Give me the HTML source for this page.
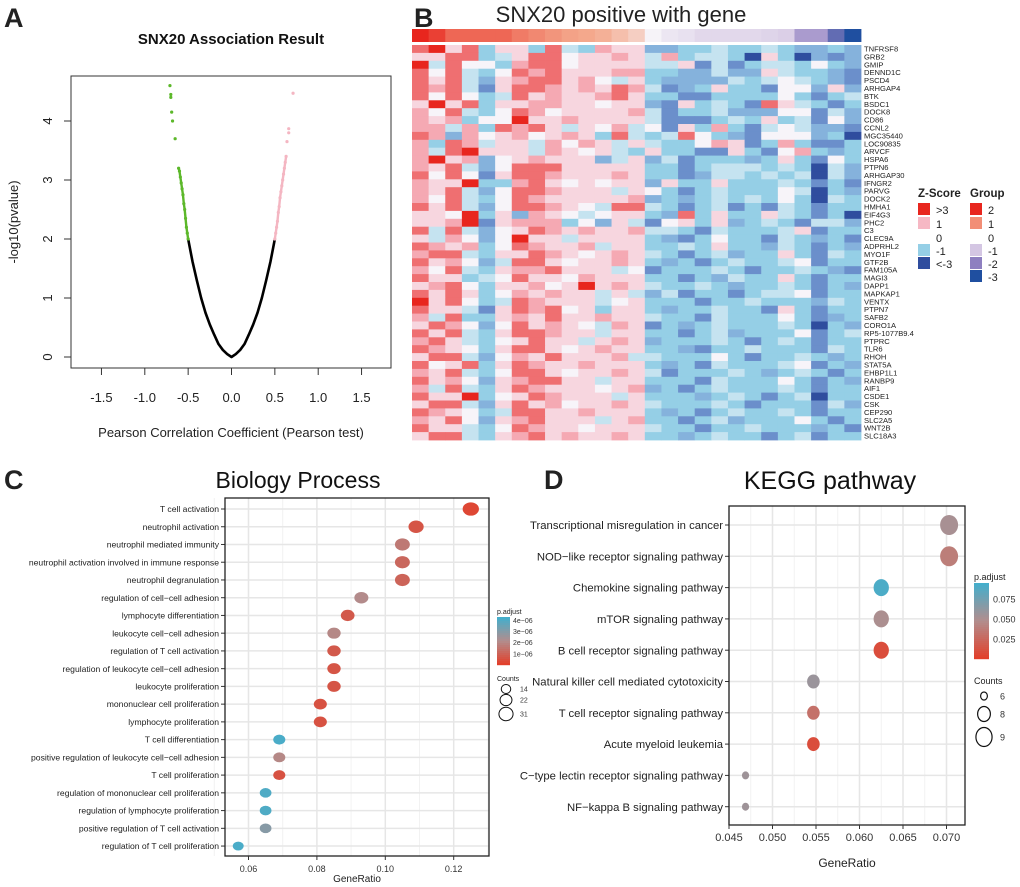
<!DOCTYPE html>
<html><head><meta charset="utf-8"><style>
html,body{margin:0;padding:0;background:#fff;}
svg{display:block;font-family:"Liberation Sans",sans-serif;}
</style></head><body>
<svg id="fig" width="1020" height="887" viewBox="0 0 1020 887" xmlns="http://www.w3.org/2000/svg"></svg>
<script>
// ---------- Panel A data ----------
const curveR = [-0.5,-0.45,-0.4,-0.35,-0.3,-0.25,-0.2,-0.15,-0.1,-0.05,0,0.05,0.1,0.15,0.2,0.25,0.3,0.35,0.4,0.45,0.5];
const curveY = [2.0,1.62,1.3,1.0,0.75,0.55,0.38,0.22,0.12,0.05,0,0.05,0.12,0.22,0.38,0.55,0.75,1.0,1.3,1.62,2.0];
const greenR = [-0.50,-0.51,-0.52,-0.53,-0.54,-0.55,-0.56,-0.57,-0.58,-0.59,-0.60,-0.61,-0.65,-0.68,-0.69,-0.70,-0.70,-0.71];
const greenY = [2.0,2.1,2.2,2.35,2.5,2.6,2.75,2.85,2.95,3.05,3.15,3.2,3.7,4.0,4.15,4.4,4.45,4.6];
const pinkR = [0.50,0.51,0.52,0.53,0.54,0.55,0.56,0.57,0.58,0.59,0.60,0.61,0.62,0.63,0.64,0.66,0.66,0.71];
const pinkY = [2.0,2.1,2.2,2.3,2.45,2.55,2.7,2.8,2.9,3.0,3.1,3.2,3.3,3.4,3.65,3.8,3.87,4.47];
const aXTicks = [-1.5,-1.0,-0.5,0.0,0.5,1.0,1.5];
const aYTicks = [0,1,2,3,4];

// ---------- Panel B data ----------
const genes = ["TNFRSF8","GRB2","GMIP","DENND1C","PSCD4","ARHGAP4","BTK","BSDC1","DOCK8","CD86","CCNL2","MGC35440","LOC90835","ARVCF","HSPA6","PTPN6","ARHGAP30","IFNGR2","PARVG","DOCK2","HMHA1","EIF4G3","PHC2","C3","CLEC9A","ADPRHL2","MYO1F","GTF2B","FAM105A","MAGI3","DAPP1","MAPKAP1","VENTX","PTPN7","SAFB2","CORO1A","RP5-1077B9.4","PTPRC","TLR6","RHOH","STAT5A","EHBP1L1","RANBP9","AIF1","CSDE1","CSK","CEP290","SLC2A5","WNT2B","SLC18A3"];
const groupVals = [3,2.6,2,2,2,2,1.7,1.5,1.3,1.1,1,0.9,0.7,0.5,0,-0.3,-0.4,-0.6,-0.6,-0.6,-0.6,-0.7,-0.8,-1.6,-1.6,-2.4,-3];
const heatRows = [
"rRqrbqqbrcbpqqBBbbcbbcbBBbB","qqrrbcqrrwqqpqcpbccbDqbDBmB","RcrwwbprrwqqqqccqmcmbccbwbB","rwrcbwrprqqqppbbBBcBBqcbbBm","rqrcBqprrqpwcqbBBBBcbcwcbBm",
"rprcmqrrpqpqrpcmBbqbbmwwBqB","rwrwbcrqpqqprqbbmmbbbbwbmbc","qRqrbqqppqqwqqBmqbcbmrqcbmb","pwrcbwrpwqqqqpcmbbcBBBwwmcB","pqpbwwRqqpqqqqcmmmbcbqbcmwB",
"ppcpbrprqcqwpcwmqbpbmcwcBBm","rpBpwqpwqpqbrcbcrwbBmwwwBbD","pbrpcqqcpwpqcqcbbwpqmbpbmmb","pcrRqqqcpqwqcbqbbmmqbmwpbBb","pRqpBwqpqqqBcqBcmbbbBbqbmwb",
"pqrcBwrrrqqqqqbbmbcccbcbDcB","rwrwmqrrpqqqpqbbmBccbcbcDcB","pqqRbbprqwqwqqBqbbqbbbcbmbm","pqrcBwrrpqqqcqwbmbcbbbwcDbB","pwrcbwrpqqqqqpBbBbcbcbwbDcb",
"rqrcBwrrpqwcrrcbmbcmbmcbmbb","qqwRbqBpqwcwqqbBrbqbbqcbmbD","qqpRmqpppbwBqcmwqbqBbcbmccB","rcrcBwqrpqpqqpccbmcbbbcqmbb","qcpwBwRqqcqqqqbBmbwbbmcbBbm",
"rpqpbwrpqqpcqqbbcbqbbBcbmbB","prrcbqqrpqwqpqcbmbcBbbqbmcb","rqpwBcrrqwqqpqbBbmbcbbcwmbb","pwrcbqpprqqqcwmbbbcbmbbcbBm","rqqbcwrqqwpqqqbbmbBcbbqbmbb",
"qprwbqqpwqRqpqcbbcbBbbcbmbB","rqrqbwpqpqqcqcBcmbbmbccwmbb","RqrwbcrpqqqcwqbbbmbbcbbbBcb","rqqcmqrprwqbqqbBbbcbbmqbmbb","pcrbbqpqrqqpqqcbbmcbbbwbmBb",
"qrpwBwrqpqwcpqmbBbcbbbcbDbB","rqrcbqrrpqqcqqbbmbcBbbbwmbc","prqcbwqrqqcqpqBbbbcbmbcbmbb","rpqwbqrrqwqpqqbbBmbbcbbbmcb","qrrcBwpqrqqqpccbbbwbmbbcbBb",
"rwqrbqrpqqpqqqbBbmcbbbcwmbB","pqrcbwrrqwqqpqcmbbbcbBbcbmb","rqpwBqprrqqcqqbbbmcbbbwbmbB","pcrcbqrpqqqwqpBbmbcbbbcbmbb","rqqRbwqrpqqqcqbbbBbcbmbcDbb",
"qrrcBqrqpwqqpqcbbbcbmbbbmcB","rpqwbcrrqqpqqqbBbmbcbbcbmbb","pqrwBqprqqqcqpbbmbcBbbbwbmb","rqqcbwrpqqwqqqcbbmbbcbbbBbm","qrrcbqprqpqqpqbbBbcbbmbcmbb"];
const zKey = "RrpqwcbBmD";
const zVals = [3,2,1.2,0.5,0,-0.5,-1,-1.6,-2.2,-3];

// ---------- Panel C data ----------
const bpTerms = ["T cell activation","neutrophil activation","neutrophil mediated immunity","neutrophil activation involved in immune response","neutrophil degranulation","regulation of cell\u2212cell adhesion","lymphocyte differentiation","leukocyte cell\u2212cell adhesion","regulation of T cell activation","regulation of leukocyte cell\u2212cell adhesion","leukocyte proliferation","mononuclear cell proliferation","lymphocyte proliferation","T cell differentiation","positive regulation of leukocyte cell\u2212cell adhesion","T cell proliferation","regulation of mononuclear cell proliferation","regulation of lymphocyte proliferation","positive regulation of T cell activation","regulation of T cell proliferation"];
const bpRatio = [0.125,0.109,0.105,0.105,0.105,0.093,0.089,0.085,0.085,0.085,0.085,0.081,0.081,0.069,0.069,0.069,0.065,0.065,0.065,0.057];
const bpCount = [31,27,26,26,26,23,22,21,21,21,21,20,20,17,17,17,16,16,16,14];
const bpPadj = [0.2e-6,0.6e-6,1.6e-6,1.1e-6,1.0e-6,2.1e-6,0.7e-6,2.0e-6,0.7e-6,0.6e-6,0.6e-6,0.5e-6,0.5e-6,4.2e-6,2.0e-6,0.5e-6,4.1e-6,4.1e-6,3.0e-6,4.2e-6];
const bpXTicks = [0.06,0.08,0.10,0.12];
const bpLegTicks = [4e-6,3e-6,2e-6,1e-6];
const bpLegLabels = ["4e\u221206","3e\u221206","2e\u221206","1e\u221206"];
const bpCountLeg = [14,22,31];

// ---------- Panel D data ----------
const kgTerms = ["Transcriptional misregulation in cancer","NOD\u2212like receptor signaling pathway","Chemokine signaling pathway","mTOR signaling pathway","B cell receptor signaling pathway","Natural killer cell mediated cytotoxicity","T cell receptor signaling pathway","Acute myeloid leukemia","C\u2212type lectin receptor signaling pathway","NF\u2212kappa B signaling pathway"];
const kgRatio = [0.0703,0.0703,0.0625,0.0625,0.0625,0.0547,0.0547,0.0547,0.0469,0.0469];
const kgCount = [9,9,8,8,8,7,7,7,6,6];
const kgPadj = [0.052,0.038,0.092,0.05,0.008,0.058,0.03,0.008,0.056,0.056];
const kgXTicks = [0.045,0.050,0.055,0.060,0.065,0.070];
const kgXLabels = ["0.045","0.050","0.055","0.060","0.065","0.070"];
const kgLegTicks = [0.075,0.050,0.025];
const kgCountLeg = [6,8,9];

// ---------- helpers ----------
const NS = "http://www.w3.org/2000/svg";
const svg = document.getElementById("fig");
function mk(tag, attrs, parent){
  const e = document.createElementNS(NS, tag);
  for (const k in attrs) e.setAttribute(k, attrs[k]);
  (parent||svg).appendChild(e);
  return e;
}
function txt(s, attrs, parent){ const e = mk("text", attrs, parent); e.textContent = s; return e; }
function hex(c){ return [parseInt(c.slice(1,3),16),parseInt(c.slice(3,5),16),parseInt(c.slice(5,7),16)]; }
function mix(a,b,t){ const A=hex(a),B=hex(b); return "rgb("+A.map((v,i)=>Math.round(v+(B[i]-v)*t)).join(",")+")"; }
function zColor(v){
  if (v>=0){ return v<=1 ? mix("#f7f4f9","#f6b8c4",v) : mix("#f6b8c4","#e8261e",Math.min(1,(v-1)/2)); }
  const a=-v;
  if (a<=1) return mix("#f4f7fa","#95cfe6",a);
  if (a<=2) return mix("#95cfe6","#7a9fd6",a-1);
  return mix("#7a9fd6","#2f4d9e",Math.min(1,a-2));
}
function gColor(v){
  if (v>=0){ return v<=1 ? mix("#f6f3f8","#f4a88c",v) : mix("#f4a88c","#e8261e",Math.min(1,(v-1)/2)); }
  const a=-v;
  if (a<=1) return mix("#f6f3f8","#d4c6e3",a);
  if (a<=2) return mix("#d4c6e3","#8e7fc0",a-1);
  return mix("#8e7fc0","#1f4fa0",Math.min(1,a-2));
}
function padjColor(t){
  return t<0.5 ? mix("#e2402b","#b28d8d",t*2) : mix("#b28d8d","#45aecb",(t-0.5)*2);
}

// ---------- Panel A ----------
const gA = mk("g",{});


const axL=71, axR=391, axT=76, axB=368;
const xA = r => 231.5 + r*86.7;
const yA = v => 357 - v*59;
let e;
e = txt("A",{x:4,y:27,"font-size":27,"font-weight":"bold",fill:"#222"},gA);


e = txt("SNX20 Association Result",{x:231,y:44,"font-size":15,"font-weight":"bold","text-anchor":"middle",fill:"#111"},gA);


e = mk("rect",{x:axL,y:axT,width:axR-axL,height:axB-axT,fill:"none",stroke:"#333","stroke-width":1},gA);


aXTicks.forEach(t=>{
  const x=xA(t);
  let l=mk("line",{x1:x,x2:x,y1:axB,y2:axB+7,stroke:"#333"},gA);
  
  
  let s=txt(t.toFixed(1),{x:x,y:402,"font-size":13,"text-anchor":"middle",fill:"#222"},gA);
  
  
});
aYTicks.forEach(t=>{
  const y=yA(t);
  let l=mk("line",{x1:axL-7,x2:axL,y1:y,y2:y,stroke:"#333"},gA);
  
  
  let s=txt(String(t),{x:0,y:0,"font-size":13,"text-anchor":"middle",fill:"#222",transform:"translate(52,"+y+") rotate(-90)"},gA);
  
  
});
e = txt("-log10(pvalue)",{x:0,y:0,"font-size":13,"text-anchor":"middle",fill:"#222",transform:"translate(18,222) rotate(-90)"},gA);


e = txt("Pearson Correlation Coefficient (Pearson test)",{x:231,y:437,"font-size":13,"text-anchor":"middle",fill:"#222"},gA);


e = mk("polyline",{points:curveR.map((r,i)=>xA(r)+","+yA(curveY[i])).join(" "),fill:"none",stroke:"#000","stroke-width":2.6,"stroke-linejoin":"round"},gA);


greenR.forEach((r,i)=>{
  const c=mk("circle",{cx:xA(r),cy:yA(greenY[i]),r:1.6,fill:"#5cb82a"},gA);
  
  
});
e = mk("polyline",{points:greenR.slice(0,12).map((r,i)=>xA(r)+","+yA(greenY[i])).join(" "),fill:"none",stroke:"#5cb82a","stroke-width":2.4},gA);


pinkR.forEach((r,i)=>{
  const c=mk("circle",{cx:xA(r),cy:yA(pinkY[i]),r:1.6,fill:"#f4b6c2"},gA);
  
  
});
e = mk("polyline",{points:pinkR.slice(0,14).map((r,i)=>xA(r)+","+yA(pinkY[i])).join(" "),fill:"none",stroke:"#f4b6c2","stroke-width":2.4},gA);



// ---------- Panel B ----------
const gB = mk("g",{});


const hx0=412, hx1=861, hy0=45, rowH=7.9;
const nCol = groupVals.length;
const colW=(hx1-hx0)/nCol;
e = txt("B",{x:414,y:27,"font-size":27,"font-weight":"bold",fill:"#222"},gB);


e = txt("SNX20 positive with gene",{x:621,y:22,"font-size":22,"text-anchor":"middle",fill:"#222"},gB);


groupVals.forEach((v,j)=>{
  const r=mk("rect",{x:hx0+j*colW,y:29,width:colW+0.4,height:13,fill:gColor(v)},gB);
  
  
});
heatRows.forEach((row,i)=>{
  for(let j=0;j<nCol;j++){
    const ch=row[j]||"w";
    const v=zVals[zKey.indexOf(ch)] ?? 0;
    const r=mk("rect",{x:hx0+j*colW,y:hy0+i*rowH,width:colW+0.4,height:rowH+0.4,fill:zColor(v)},gB);
    
    
  }
});
genes.forEach((g,i)=>{
  const t=txt(g,{x:864,y:hy0+i*rowH+6.5,"font-size":7.6,fill:"#222"},gB);
  
  
});
e = txt("Z-Score",{x:918,y:197,"font-size":11.5,"font-weight":"bold",fill:"#222"},gB);


e = txt("Group",{x:970,y:197,"font-size":11.5,"font-weight":"bold",fill:"#222"},gB);


const legRowY=[203,217,231,244,257,270];
const zLeg=[[">3",3],["1",1],["0",null],["-1",-1],["<-3",-3]];
zLeg.forEach((z,i)=>{
  if(z[1]!==null){
    const r=mk("rect",{x:918,y:legRowY[i],width:12,height:12,fill:zColor(z[1])},gB);
    
    
  }
  const t=txt(z[0],{x:936,y:legRowY[i]+11,"font-size":11,fill:"#222"},gB);
  
  
});
const gLeg=[["2",3],["1",1.4],["0",null],["-1",-1],["-2",-2],["-3",-3]];
gLeg.forEach((z,i)=>{
  if(z[1]!==null){
    const r=mk("rect",{x:970,y:legRowY[i],width:12,height:12,fill:gColor(z[1])},gB);
    
    
  }
  const t=txt(z[0],{x:988,y:legRowY[i]+11,"font-size":11,fill:"#222"},gB);
  
  
});

// ---------- dot plot helper ----------
function dotPanel(o){
  const g=o.g;
  const xs=v=>o.x0px+(v-o.x0)*o.pxPer;
  for(let k=0;k<o.minor.length;k++){
    const x=xs(o.minor[k]);
    const l=mk("line",{x1:x,x2:x,y1:o.top,y2:o.bot,stroke:"#f2f2f2","stroke-width":1},g);
    
    
  }
  o.ticks.forEach(t=>{
    const x=xs(t);
    const l=mk("line",{x1:x,x2:x,y1:o.top,y2:o.bot,stroke:"#e6e6e6","stroke-width":1.5},g);
    
    
  });
  o.terms.forEach((term,i)=>{
    const y=o.row0+i*o.rowStep;
    const l=mk("line",{x1:o.left,x2:o.right,y1:y,y2:y,stroke:"#e6e6e6","stroke-width":1.5},g);
    
    
    const tk=mk("line",{x1:o.left-4,x2:o.left,y1:y,y2:y,stroke:"#333"},g);
    
    
    const t=txt(term,{x:o.left-6,y:y+o.lfs*0.36,"font-size":o.lfs,"text-anchor":"end",fill:"#222"},g);
    
    
  });
  const box=mk("rect",{x:o.left,y:o.top,width:o.right-o.left,height:o.bot-o.top,fill:"none",stroke:"#222","stroke-width":1.3},g);
  
  
  o.ticks.forEach((t,k)=>{
    const x=xs(t);
    const l=mk("line",{x1:x,x2:x,y1:o.bot,y2:o.bot+4,stroke:"#333"},g);
    
    
    const s=txt(o.tickLabels[k],{x:x,y:o.bot+16,"font-size":o.tfs,"text-anchor":"middle",fill:"#333"},g);
    
    
  });
  o.ratio.forEach((v,i)=>{
    const r=o.rad(o.count[i]);
    const c=mk("ellipse",{cx:xs(v),cy:o.row0+i*o.rowStep,rx:r*o.aspect,ry:r,fill:padjColor(o.pn(o.padj[i]))},g);
    
    
  });
  return xs;
}

// ---------- Panel C ----------
const gC = mk("g",{});


e = txt("C",{x:4,y:489,"font-size":27,"font-weight":"bold",fill:"#222"},gC);


e = txt("Biology Process",{x:298,y:488,"font-size":23,"text-anchor":"middle",fill:"#111"},gC);


dotPanel({g:gC,left:225,right:489,top:498,bot:856,x0:0.06,x0px:248.5,pxPer:3420,
  ticks:bpXTicks,tickLabels:bpXTicks.map(t=>t.toFixed(2)),minor:[0.05,0.07,0.09,0.11,0.13],
  terms:bpTerms,row0:509,rowStep:17.74,lfs:8.6,tfs:9,ratio:bpRatio,count:bpCount,padj:bpPadj,
  rad:c=>Math.sqrt(c)*1.2,aspect:1.22,pn:p=>Math.min(1,p/4.3e-6)});
e = txt("GeneRatio",{x:357,y:882,"font-size":10,"text-anchor":"middle",fill:"#222"},gC);


e = txt("p.adjust",{x:497,y:614,"font-size":7,fill:"#222"},gC);


for(let k=0;k<24;k++){
  const r=mk("rect",{x:497,y:617+k*2,width:13,height:2.2,fill:padjColor(1-k/23)},gC);
  
  
}
bpLegTicks.forEach((t,k)=>{
  const y=617+(1-t/4.3e-6)*48;
  const s=txt(bpLegLabels[k],{x:513,y:y+2.5,"font-size":7,fill:"#333"},gC);
  
  
});
e = txt("Counts",{x:497,y:681,"font-size":7,fill:"#222"},gC);


const cLegY=[689,700,714];
bpCountLeg.forEach((c,k)=>{
  const r=Math.sqrt(c)*1.27;
  const ci=mk("ellipse",{cx:506,cy:cLegY[k],rx:r*1.0,ry:r*0.95,fill:"none",stroke:"#111","stroke-width":1},gC);
  
  
  const s=txt(String(c),{x:520,y:cLegY[k]+2.5,"font-size":7,fill:"#333"},gC);
  
  
});

// ---------- Panel D ----------
const gD = mk("g",{});


e = txt("D",{x:544,y:489,"font-size":27,"font-weight":"bold",fill:"#222"},gD);


e = txt("KEGG pathway",{x:830,y:489,"font-size":25,"text-anchor":"middle",fill:"#111"},gD);


dotPanel({g:gD,left:729,right:965,top:506,bot:825,x0:0.045,x0px:729,pxPer:8700,
  ticks:kgXTicks,tickLabels:kgXLabels,minor:[0.0475,0.0525,0.0575,0.0625,0.0675],
  terms:kgTerms,row0:525,rowStep:31.3,lfs:11.3,tfs:11,ratio:kgRatio,count:kgCount,padj:kgPadj,
  rad:c=>c<7 ? 4 : 7+(c-7)*1.5,aspect:0.9,pn:p=>Math.min(1,p/0.095)});
e = txt("GeneRatio",{x:847,y:867,"font-size":12,"text-anchor":"middle",fill:"#222"},gD);


e = txt("p.adjust",{x:974,y:580,"font-size":9,fill:"#222"},gD);


for(let k=0;k<38;k++){
  const r=mk("rect",{x:974,y:583+k*2,width:15,height:2.2,fill:padjColor(1-k/37)},gD);
  
  
}
kgLegTicks.forEach(t=>{
  const y=659-(t/0.095)*76;
  const s=txt(t.toFixed(3),{x:993,y:y+3.5,"font-size":9,fill:"#333"},gD);
  
  
});
e = txt("Counts",{x:974,y:684,"font-size":9,fill:"#222"},gD);


const dLegY=[696,714,737];
kgCountLeg.forEach((c,k)=>{
  const r=[4,7.5,9.5][k];
  const ci=mk("ellipse",{cx:984,cy:dLegY[k],rx:r*0.85,ry:r,fill:"none",stroke:"#111","stroke-width":1.2},gD);
  
  
  const s=txt(String(c),{x:1000,y:dLegY[k]+3.5,"font-size":9,fill:"#333"},gD);
  
  
});
</script>
</body></html>
